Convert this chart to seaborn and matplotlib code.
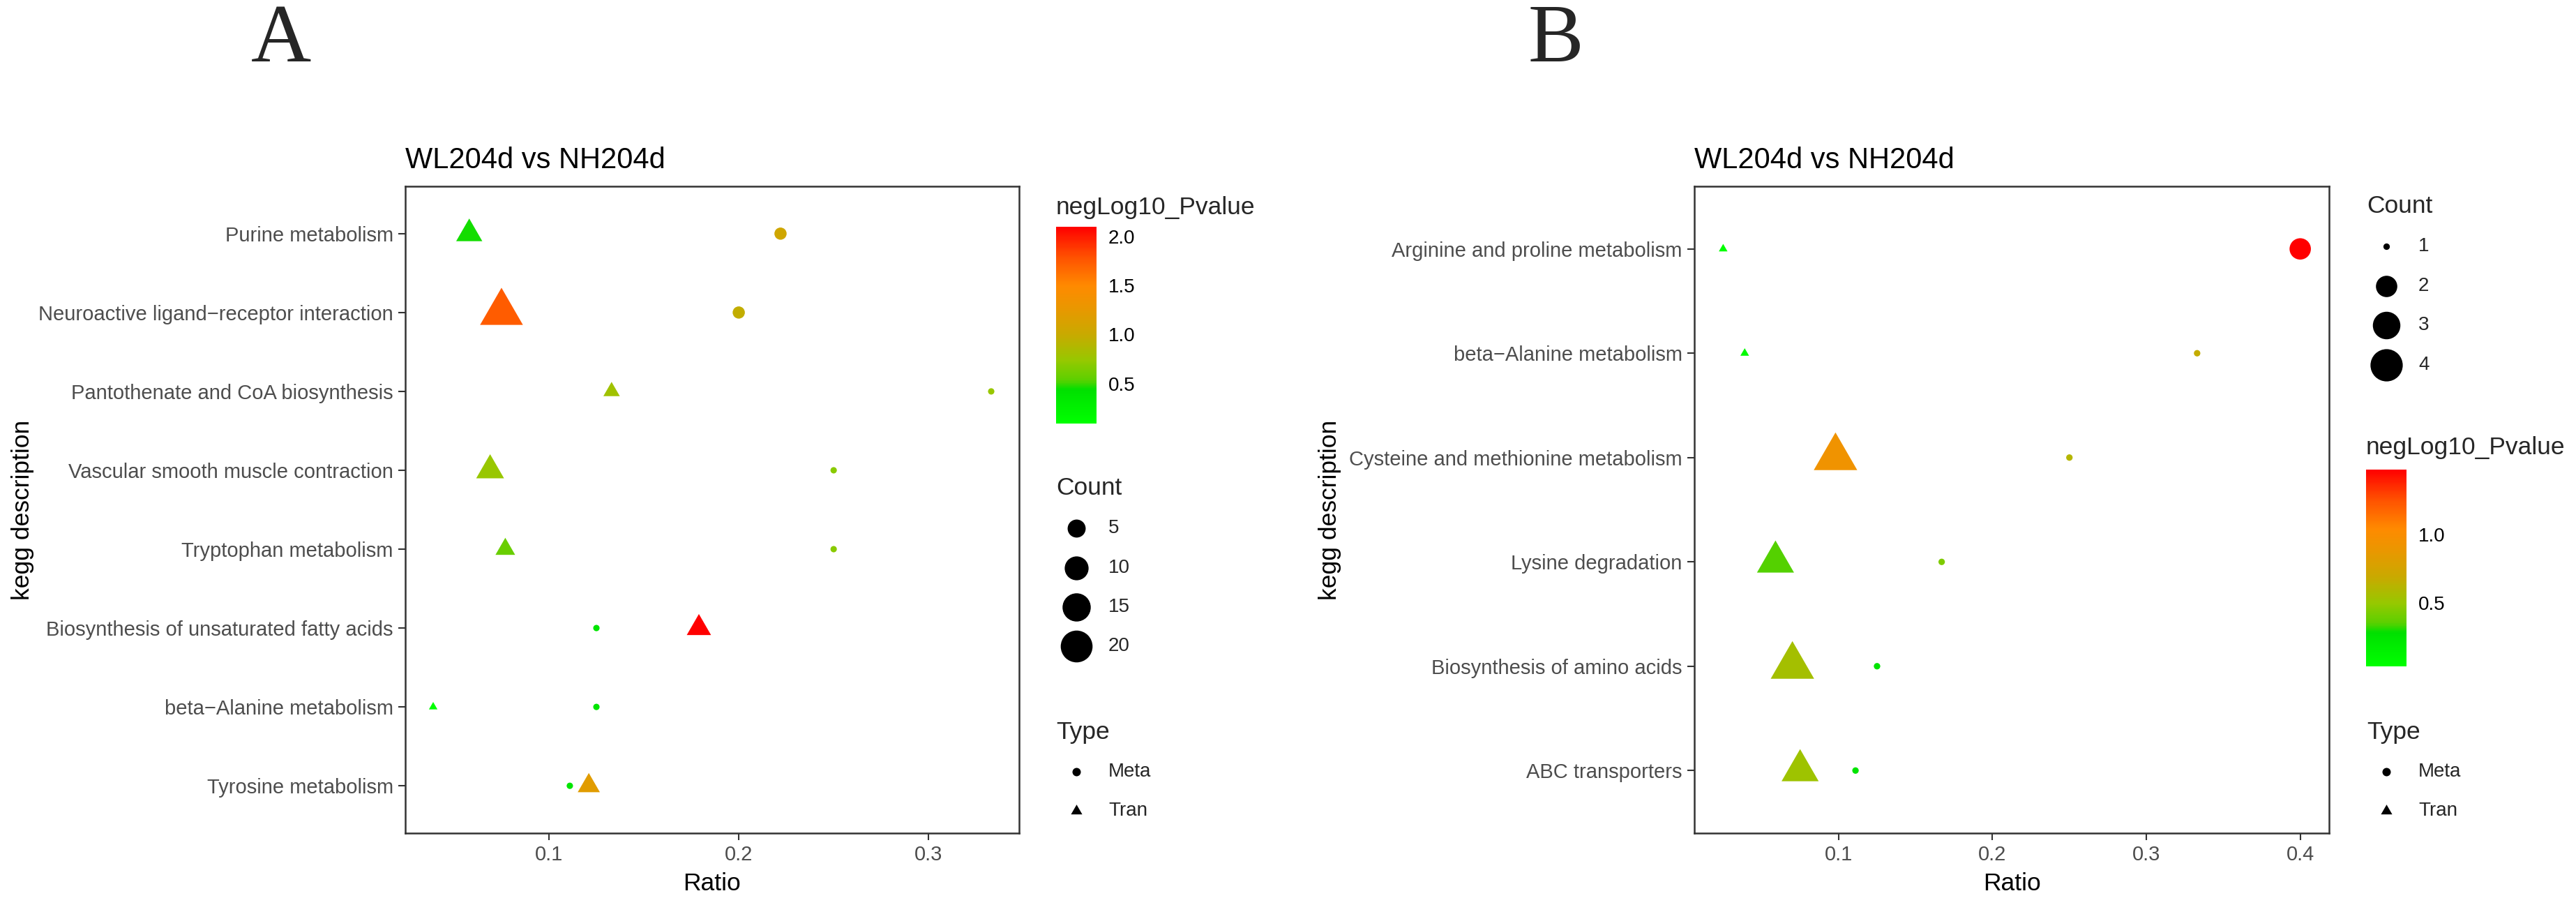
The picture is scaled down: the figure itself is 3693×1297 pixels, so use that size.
import numpy as np
import pandas as pd
import matplotlib
matplotlib.use("Agg")
import matplotlib.pyplot as plt
import seaborn as sns
from matplotlib.path import Path
from matplotlib.colors import LinearSegmentedColormap, Normalize
from matplotlib.cm import ScalarMappable
from matplotlib.ticker import MultipleLocator, FormatStrFormatter

#   Data (terms listed top -> bottom)
a_terms = ["Purine metabolism",
           "Neuroactive ligand\u2212receptor interaction",
           "Pantothenate and CoA biosynthesis",
           "Vascular smooth muscle contraction",
           "Tryptophan metabolism",
           "Biosynthesis of unsaturated fatty acids",
           "beta\u2212Alanine metabolism",
           "Tyrosine metabolism"]
a_meta_ratio = [0.222, 0.200, 0.333, 0.250, 0.250, 0.125, 0.125, 0.111]
a_meta_count = [2, 2, 1, 1, 1, 1, 1, 1]
a_meta_logp = [1.05, 0.97, 0.75, 0.69, 0.69, 0.39, 0.39, 0.39]
a_tran_ratio = [0.058, 0.075, 0.133, 0.069, 0.077, 0.179, 0.039, 0.121]
a_tran_count = [6, 20, 2, 7, 3, 5, 1, 4]
a_tran_logp = [0.46, 1.73, 0.79, 0.75, 0.58, 2.096, 0.095, 1.20]
a_count_breaks = [5, 10, 15, 20]
a_cbar_ticks = [0.5, 1.0, 1.5, 2.0]

b_terms = ["Arginine and proline metabolism",
           "beta\u2212Alanine metabolism",
           "Cysteine and methionine metabolism",
           "Lysine degradation",
           "Biosynthesis of amino acids",
           "ABC transporters"]
b_meta_ratio = [0.400, 0.333, 0.250, 0.167, 0.125, 0.111]
b_meta_count = [2, 1, 1, 1, 1, 1]
b_meta_logp = [1.474, 0.67, 0.61, 0.44, 0.25, 0.25]
b_tran_ratio = [0.025, 0.039, 0.098, 0.059, 0.070, 0.075]
b_tran_count = [1, 1, 4, 3, 4, 3]
b_tran_logp = [0.036, 0.08, 0.93, 0.35, 0.55, 0.53]
b_count_breaks = [1, 2, 3, 4]
b_cbar_ticks = [0.5, 1.0]

type_labels = ["Meta", "Tran"]

#   Figure geometry (pixels)
W, H, DPI = 3693, 1297, 100
PT = 72 / DPI
TRC0 = 1.5551

sns.set_theme(style="white")
plt.rcParams["font.family"] = ["Liberation Sans", "DejaVu Sans"]

cmap = LinearSegmentedColormap.from_list("pval", [
    (0.00, "#00FF00"), (0.17, "#00E000"), (0.22, "#5CD000"), (0.32, "#96C800"),
    (0.45, "#C8AA00"), (0.58, "#E89800"), (0.70, "#FF8A00"), (0.85, "#FF5000"),
    (1.00, "#FF0000")])

TRI = Path([(0, 1), (-0.866, -0.5), (0.866, -0.5), (0, 1)],
           [Path.MOVETO, Path.LINETO, Path.LINETO, Path.CLOSEPOLY])


def box(l, t, r, b):
    return [l / W, 1 - b / H, (r - l) / W, (b - t) / H]


#   ggplot-like size scale: diameter grows with sqrt of count
def dot_px(c, cmax, k):
    return k * (1.25 + 5 * np.sqrt((c - 1) / (cmax - 1)))


def make_df(terms, ratio, count, logp, kind):
    df = pd.DataFrame({"kegg description": terms, "Ratio": ratio, "Count": count,
                       "negLog10_Pvalue": logp, "Type": kind})
    return df.iloc[::-1].reset_index(drop=True)


def draw_panel(ax, meta, tran, k, ylab_x):
    both = pd.concat([meta, tran])
    lo, hi = both["negLog10_Pvalue"].min(), both["negLog10_Pvalue"].max()
    cmax = both["Count"].max()
    counts = sorted(both["Count"].unique())
    circ = {c: (dot_px(c, cmax, k) * PT) ** 2 for c in counts}
    tri = {c: (TRC0 * dot_px(c, cmax, k) * PT) ** 2 for c in counts}

    sns.scatterplot(data=meta, x="Ratio", y="kegg description", hue="negLog10_Pvalue",
                    hue_norm=(lo, hi), palette=cmap, size="Count", sizes=circ,
                    marker="o", linewidth=0, legend=False, ax=ax, zorder=3)
    sns.scatterplot(data=tran, x="Ratio", y="kegg description", hue="negLog10_Pvalue",
                    hue_norm=(lo, hi), palette=cmap, size="Count", sizes=tri,
                    marker=TRI, linewidth=0, legend=False, ax=ax, zorder=3)

    xmin, xmax = both["Ratio"].min(), both["Ratio"].max()
    span = xmax - xmin
    ax.set_xlim(xmin - 0.05 * span, xmax + 0.05 * span)
    ax.set_ylim(-0.6, len(meta) - 0.4)
    ax.xaxis.set_major_locator(MultipleLocator(0.1))
    ax.xaxis.set_major_formatter(FormatStrFormatter("%.1f"))
    ax.grid(False)
    for sp in ax.spines.values():
        sp.set_color("#333333")
        sp.set_linewidth(1.8)
    ax.tick_params(axis="both", length=7, width=1.5, color="#333333",
                   labelsize=21, labelcolor="#4D4D4D", left=True, bottom=True)
    ax.tick_params(axis="x", pad=5)
    ax.tick_params(axis="y", pad=5.5)
    ax.set_xlabel("Ratio", fontsize=25.5, color="black", labelpad=8)
    ax.set_ylabel("kegg description", fontsize=25.5, color="black")
    ax.yaxis.set_label_coords(ylab_x, 0.5)
    ax.set_title("WL204d vs NH204d", loc="left", fontsize=30, pad=18.7, color="black")
    return lo, hi, cmax


def colorbar(fig, ov, lo, hi, ticks, left, title_y, top, bottom, label_x):
    ov.text(left, title_y, "negLog10_Pvalue", fontsize=25.5, va="baseline", ha="left")
    cax = fig.add_axes(box(left, top, left + 58, bottom))
    sm = ScalarMappable(norm=Normalize(lo, hi), cmap=cmap)
    cb = fig.colorbar(sm, cax=cax, ticks=ticks)
    cb.outline.set_visible(False)
    cb.ax.yaxis.set_major_formatter(FormatStrFormatter("%.1f"))
    cax.tick_params(axis="y", direction="in", left=True, right=True, length=8.5,
                    width=1.2, color="white", labelcolor="black", labelsize=20,
                    pad=(label_x - left - 58) * PT)


def size_legend(ov, breaks, cmax, k, left, cx, lx, title_y, ys):
    ov.text(left, title_y, "Count", fontsize=25.5, va="baseline", ha="left")
    for c, y in zip(breaks, ys):
        ov.scatter([cx], [y], s=(dot_px(c, cmax, k) * PT) ** 2, color="black",
                   linewidth=0, clip_on=False)
        ov.text(lx, y, str(c), fontsize=20, va="center", ha="left")


def type_legend(ov, left, cx, lx, title_y, ys):
    ov.text(left, title_y, "Type", fontsize=25.5, va="baseline", ha="left")
    d = 12
    ov.scatter([cx], [ys[0]], s=(d * PT) ** 2, color="black", marker="o",
               linewidth=0, clip_on=False)
    ov.scatter([cx], [ys[1]], s=(TRC0 * d * PT) ** 2, color="black", marker=TRI,
               linewidth=0, clip_on=False)
    for lab, y in zip(type_labels, ys):
        ov.text(lx, y, lab, fontsize=20, va="center", ha="left")


fig = plt.figure(figsize=(W / DPI, H / DPI), dpi=DPI)
ov = fig.add_axes([0, 0, 1, 1])
ov.set_xlim(0, W)
ov.set_ylim(H, 0)
ov.axis("off")

ov.text(403, 88, "A", family=["Liberation Serif", "DejaVu Serif"], fontsize=86,
        ha="center", va="baseline")
ov.text(2230, 88, "B", family=["Liberation Serif", "DejaVu Serif"], fontsize=86,
        ha="center", va="baseline")

#   Panel A
a_meta = make_df(a_terms, a_meta_ratio, a_meta_count, a_meta_logp, "Meta")
a_tran = make_df(a_terms, a_tran_ratio, a_tran_count, a_tran_logp, "Tran")
ax_a = fig.add_axes(box(581, 267, 1461, 1194))
kA = 7.3
lo, hi, cmax = draw_panel(ax_a, a_meta, a_tran, kA, (49 - 581) / 880)
colorbar(fig, ov, lo, hi, a_cbar_ticks, 1514, 307, 325, 607, 1589)
size_legend(ov, a_count_breaks, cmax, kA, 1514, 1543, 1589, 709, [757, 814, 870, 926])
type_legend(ov, 1514, 1543, 1589, 1059, [1106, 1162])

#   Panel B
b_meta = make_df(b_terms, b_meta_ratio, b_meta_count, b_meta_logp, "Meta")
b_tran = make_df(b_terms, b_tran_ratio, b_tran_count, b_tran_logp, "Tran")
ax_b = fig.add_axes(box(2429, 267, 3339, 1194))
kB = 7.4
lo, hi, cmax = draw_panel(ax_b, b_meta, b_tran, kB, (1923 - 2429) / 910)
size_legend(ov, b_count_breaks, cmax, kB, 3393, 3421, 3467, 305, [353, 410, 466, 523])
colorbar(fig, ov, lo, hi, b_cbar_ticks, 3392, 651, 673, 955, 3467)
type_legend(ov, 3393, 3421, 3467, 1059, [1106, 1162])

fig.savefig("out.png", dpi=DPI)
